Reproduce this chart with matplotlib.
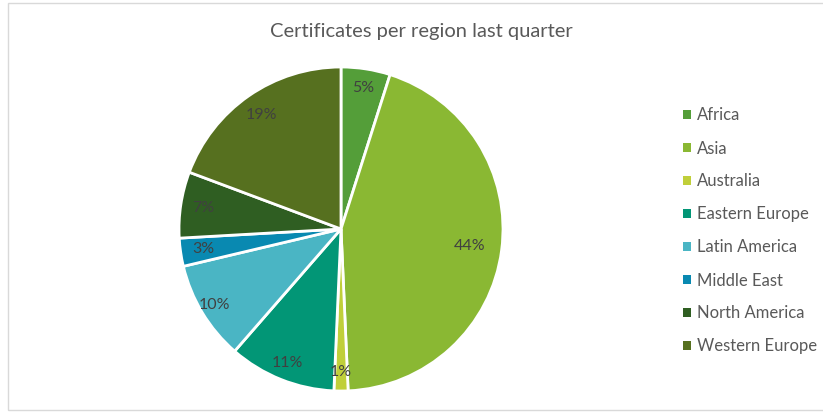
import numpy as np
import matplotlib
matplotlib.use("Agg")
import matplotlib.pyplot as plt
from matplotlib.patches import Rectangle

regions = ["Africa", "Asia", "Australia", "Eastern Europe", "Latin America",
           "Middle East", "North America", "Western Europe"]
values = [49, 444, 14, 107, 99, 28, 66, 193]
colors = ["#549E39", "#8AB833", "#C0CF3A", "#029676", "#4AB5C4",
          "#0989B1", "#2F5E22", "#56701F"]
label_dist = [0.88, 0.80, 0.88, 0.89, 0.91, 0.86, 0.86, 0.86]
title = "Certificates per region last quarter"

plt.rcParams['font.family'] = ['Lato', 'DejaVu Sans']

W, H = 823, 412
fig = plt.figure(figsize=(W / 100, H / 100), dpi=100)

# outer border
fig.patches.append(Rectangle((8 / W, 2 / H), (W + 5) / W, 407 / H, transform=fig.transFigure,
                             fill=False, edgecolor="#D9D9D9", linewidth=1.0))

cx, cy, r = 341, 229, 162
ax = fig.add_axes([(cx - r) / W, (H - cy - r) / H, 2 * r / W, 2 * r / H])
wedges, _ = ax.pie(values, colors=colors, startangle=90, counterclock=False,
                   radius=1.0, wedgeprops=dict(edgecolor="white", linewidth=2.0))
ax.set_xlim(-1, 1)
ax.set_ylim(-1, 1)
ax.set_aspect("equal")
ax.axis("off")

total = sum(values)
for w, v, d in zip(wedges, values, label_dist):
    theta = np.deg2rad((w.theta1 + w.theta2) / 2)
    ax.text(d * np.cos(theta), d * np.sin(theta), f"{100 * v / total:.0f}%",
            ha="center", va="center", fontsize=11.5, color="#404040")

fig.text(421 / W, 1 - 31 / H, title, ha="center", va="center",
         fontsize=14.5, color="#595959")

leg = fig.legend(wedges, regions, loc="center left",
                 bbox_to_anchor=(668 / W, 1 - 231 / H), frameon=False,
                 fontsize=12, labelspacing=1.02, handlelength=0.5,
                 handleheight=0.5, handletextpad=0.32, labelcolor="#595959")
for h in leg.legend_handles:
    h.set_edgecolor("none")

fig.savefig("out.png", dpi=100)
